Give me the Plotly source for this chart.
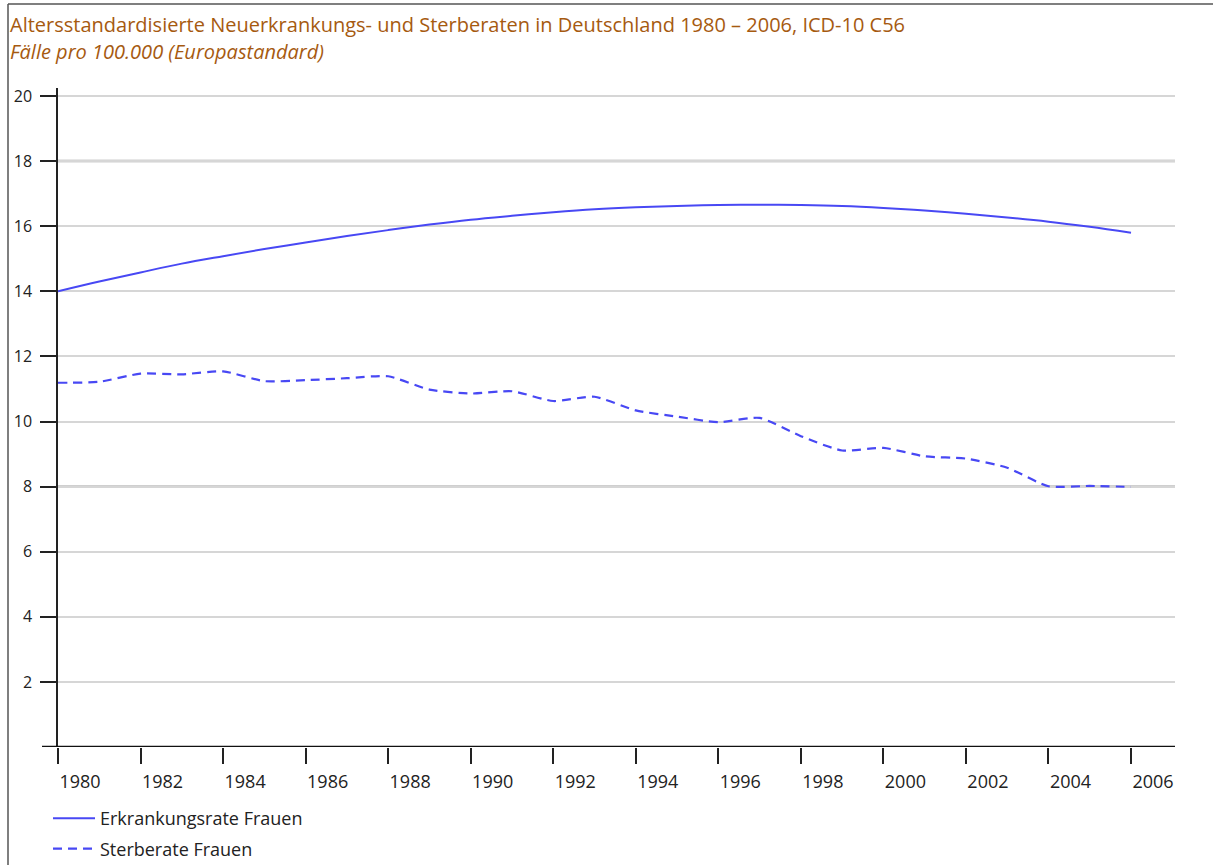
import plotly.graph_objects as go

years = list(range(1980, 2007))
erkrankung = [14.00, 14.30, 14.58, 14.85, 15.08, 15.30, 15.50, 15.70, 15.88, 16.05,
              16.20, 16.32, 16.43, 16.52, 16.58, 16.62, 16.65, 16.66, 16.65, 16.62,
              16.56, 16.48, 16.38, 16.27, 16.14, 15.98, 15.80]
sterbe = [11.19, 11.22, 11.47, 11.45, 11.54, 11.24, 11.27, 11.33, 11.39, 10.98,
          10.86, 10.93, 10.63, 10.76, 10.34, 10.15, 9.98, 10.11, 9.55, 9.11,
          9.19, 8.93, 8.86, 8.58, 8.01, 8.02, 7.99]
x_ticks = list(range(1980, 2007, 2))
y_ticks = list(range(2, 21, 2))
thick_grid = [8, 18]

title = "Altersstandardisierte Neuerkrankungs- und Sterberaten in Deutschland 1980 – 2006, ICD-10 C56"
subtitle = "Fälle pro 100.000 (Europastandard)"
names = ["Erkrankungsrate Frauen", "Sterberate Frauen"]

W, H = 1213, 865
L, R, T, B = 58, 38, 88, 118
pw, ph = W - L - R, H - T - B
px_per_year = 41.27
px_per_unit = 32.55
xr = [1980, 1980 + pw / px_per_year]
yr = [0, ph / px_per_unit]

def px2paper_x(px):
    return (px - L) / pw

def px2paper_y(py):
    return (H - B - py) / ph

blue = "#4848f4"
fontfam = "Open Sans, Lato, sans-serif"

fig = go.Figure()
fig.add_trace(go.Scatter(x=years, y=erkrankung, mode="lines", name=names[0],
                         line=dict(color=blue, width=2, shape="spline", smoothing=1.0),
                         legendgroup="a"))
fig.add_trace(go.Scatter(x=years, y=sterbe, mode="lines", name=names[1],
                         line=dict(color=blue, width=2.2, dash="9px,6px", shape="spline", smoothing=0.6),
                         legendgroup="b"))

shapes = [
    dict(type="line", xref="paper", yref="y", x0=0, x1=1, y0=g, y1=g,
         line=dict(color="#cfcfcf", width=3), layer="below") for g in thick_grid
] + [
    # x axis line (extends left past y axis)
    dict(type="line", xref="paper", yref="y", x0=px2paper_x(42), x1=1, y0=0, y1=0,
         line=dict(color="#111111", width=2.5), layer="above"),
    # frame
    dict(type="line", xref="paper", yref="paper", x0=px2paper_x(8), x1=px2paper_x(8),
         y0=px2paper_y(4), y1=px2paper_y(866), line=dict(color="#555555", width=1.5)),
    dict(type="line", xref="paper", yref="paper", x0=px2paper_x(8), x1=px2paper_x(1214),
         y0=px2paper_y(4), y1=px2paper_y(4), line=dict(color="#555555", width=1.5)),
]

annotations = [
    dict(text=title, xref="paper", yref="paper", x=px2paper_x(8), y=px2paper_y(24),
         xanchor="left", yanchor="middle", showarrow=False,
         font=dict(family=fontfam, size=20, color="#a65a10")),
    dict(text="<i>" + subtitle + "</i>", xref="paper", yref="paper", x=px2paper_x(8),
         y=px2paper_y(51), xanchor="left", yanchor="middle", showarrow=False,
         font=dict(family=fontfam, size=20, color="#a65a10")),
]

fig.update_layout(
    width=W, height=H,
    margin=dict(l=L, r=R, t=T, b=B, pad=0, autoexpand=False),
    plot_bgcolor="white", paper_bgcolor="white",
    showlegend=True,
    legend=dict(x=px2paper_x(48), y=px2paper_y(800), xanchor="left", yanchor="top",
                orientation="v", font=dict(family=fontfam, size=18, color="#222222"),
                tracegroupgap=4, itemwidth=42, bgcolor="rgba(0,0,0,0)"),
    shapes=shapes,
    annotations=annotations,
    xaxis=dict(range=xr, tickvals=x_ticks, ticktext=[str(v) for v in x_ticks],
               showgrid=False, zeroline=False, showline=False,
               ticks="outside", ticklen=16, tickwidth=1.5, tickcolor="#222222",
               ticklabelshift=22, ticklabelstandoff=2,
               tickfont=dict(family=fontfam, size=18, color="#222222")),
    yaxis=dict(range=yr, tickvals=y_ticks, ticktext=[str(v) for v in y_ticks],
               showgrid=True, gridcolor="#d6d6d6", gridwidth=1.5,
               zeroline=False, showline=True, linecolor="#222222", linewidth=1.5,
               ticks="outside", ticklen=16, tickwidth=1.5, tickcolor="#222222",
               ticklabelstandoff=5,
               tickfont=dict(family=fontfam, size=16, color="#222222")),
)

fig.write_html("out.html", config={"displayModeBar": False},
               post_script="document.body.style.margin='0px';document.body.style.overflow='hidden';")
